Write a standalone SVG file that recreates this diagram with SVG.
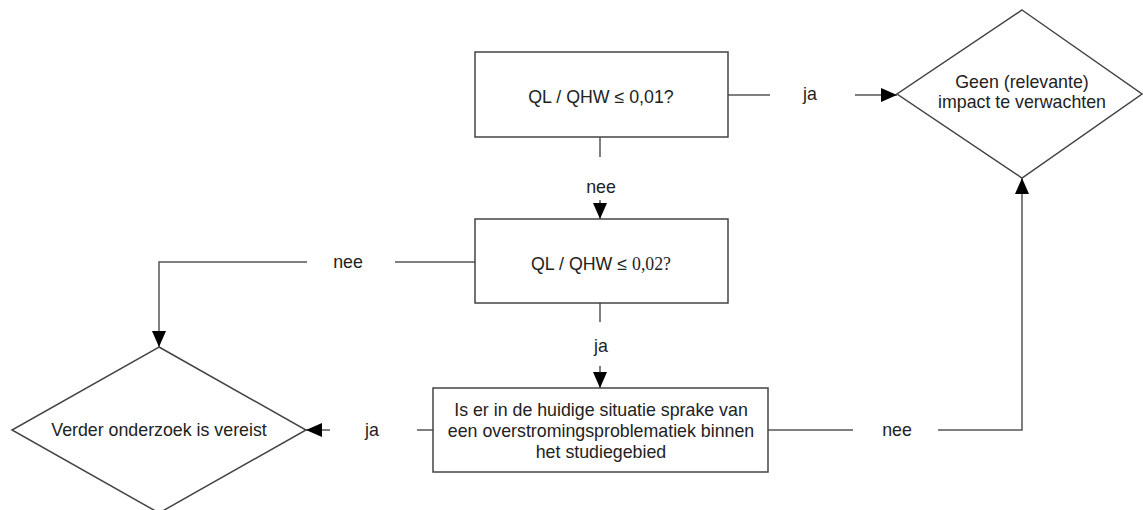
<svg xmlns="http://www.w3.org/2000/svg" width="1143" height="510" viewBox="0 0 1143 510">
<defs>
<marker id="arr" viewBox="0 0 16 14" refX="16" refY="7" markerWidth="16" markerHeight="14" markerUnits="userSpaceOnUse" orient="auto">
<path d="M0,0 L16,7 L0,14 z" fill="#000"/>
</marker>
<style>
.shape{fill:#fff;stroke:#444;stroke-width:1.5}
.conn{fill:none;stroke:#555;stroke-width:1.5}
.t{font-family:"Liberation Sans",Arial,sans-serif;font-size:17.8px;fill:#222;text-anchor:middle}
.s{font-family:"Liberation Serif","Times New Roman",serif}
</style>
</defs>
<rect width="1143" height="510" fill="#fff"/>
<g id="connectors">
<line class="conn" x1="728" y1="95" x2="770" y2="95"/>
<line class="conn" x1="855" y1="95" x2="897" y2="95" marker-end="url(#arr)"/>
<text class="t" x="810" y="100">ja</text>
<line class="conn" x1="600" y1="137" x2="600" y2="157"/>
<line class="conn" x1="600" y1="200" x2="600" y2="219" marker-end="url(#arr)"/>
<text class="t" x="601" y="193">nee</text>
<line class="conn" x1="475" y1="262" x2="395" y2="262"/>
<polyline class="conn" points="307,262 159,262 159,347" marker-end="url(#arr)"/>
<text class="t" x="348" y="268">nee</text>
<line class="conn" x1="600" y1="303" x2="600" y2="322"/>
<line class="conn" x1="600" y1="366" x2="600" y2="388" marker-end="url(#arr)"/>
<text class="t" x="601" y="352">ja</text>
<line class="conn" x1="433" y1="430" x2="417" y2="430"/>
<line class="conn" x1="330" y1="430" x2="306" y2="430" marker-end="url(#arr)"/>
<text class="t" x="372" y="436">ja</text>
<line class="conn" x1="768" y1="430" x2="853" y2="430"/>
<polyline class="conn" points="938,430 1022,430 1022,178" marker-end="url(#arr)"/>
<text class="t" x="897" y="436">nee</text>
</g>
<g id="node-q1">
<rect class="shape" x="475" y="52" width="253" height="85"/>
<text class="t" x="601" y="103">QL / QHW ≤ 0,01?</text>
</g>
<g id="node-geen">
<polygon class="shape" points="1022,10 1142,94 1022,178 897,94"/>
<text class="t" x="1022" y="88">Geen (relevante)</text>
<text class="t" x="1022" y="108">impact te verwachten</text>
</g>
<g id="node-q2">
<rect class="shape" x="475" y="219" width="253" height="84"/>
<text class="t" x="601" y="270">QL / QHW ≤ <tspan class="s">0,02?</tspan></text>
</g>
<g id="node-verder">
<polygon class="shape" points="159,347 306,430 159,513 12,430"/>
<text class="t" x="159" y="436">Verder onderzoek is vereist</text>
</g>
<g id="node-q3">
<rect class="shape" x="433" y="388" width="335" height="84"/>
<text class="t" x="601" y="416">Is er in de huidige situatie sprake van</text>
<text class="t" x="601" y="437">een overstromingsproblematiek binnen</text>
<text class="t" x="601" y="458">het studiegebied</text>
</g>
</svg>
